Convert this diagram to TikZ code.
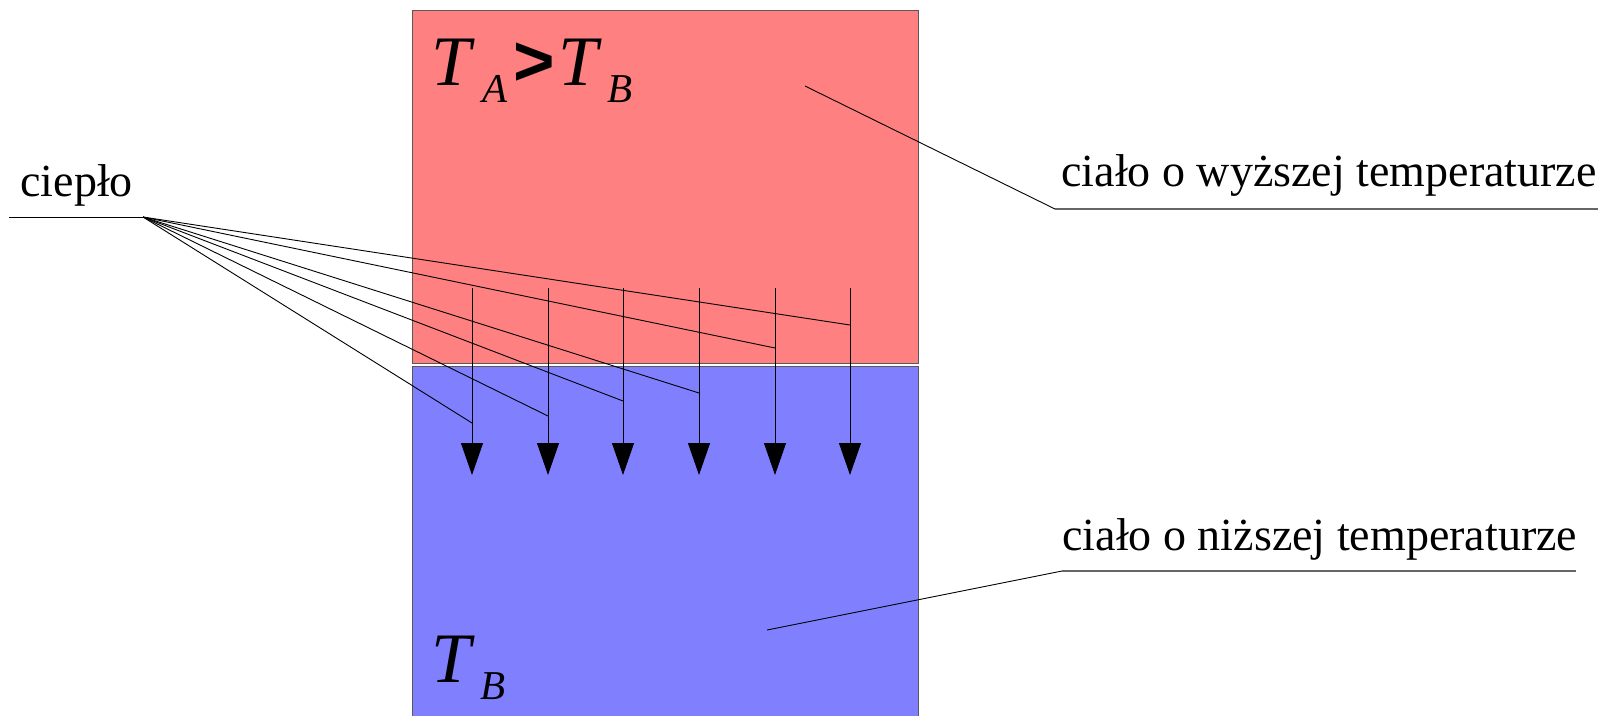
\documentclass[tikz,border=0pt]{standalone}
\usepackage{fontspec}
\setmainfont{Liberation Serif}
\newfontfamily\arialfont{Liberation Sans}
\usetikzlibrary{arrows.meta}
\definecolor{hot}{RGB}{255,128,128}
\definecolor{cold}{RGB}{128,128,255}
\begin{document}
\begin{tikzpicture}[x=1pt,y=-1pt,line width=1pt,
  body/.style={draw=black!65,line width=1pt,inner sep=0pt,outer sep=0pt,minimum width=506pt},
  lbl/.style={anchor=base west,inner sep=0pt,font=\fontsize{46}{55}\selectfont},
  big/.style={anchor=base west,inner sep=0pt,font=\fontsize{71}{80}\selectfont\itshape},
  sub/.style={anchor=base west,inner sep=0pt,font=\fontsize{41}{48}\selectfont\itshape},
  gt/.style={anchor=base west,inner sep=0pt,font=\fontsize{71}{80}\selectfont\arialfont\bfseries},
  flow/.style={-{Triangle[length=32pt,width=22pt]}},
  lead/.style={black,line width=0.9pt},
  uline/.style={black!60,line width=1.6pt}]
\useasboundingbox (0,0) rectangle (1606,715);
\clip (0,0) rectangle (1606,715);
\fill[white] (0,0) rectangle (1606,715);
% bodies
\node[body,fill=hot,minimum height=353pt] (hotbody) at (665,186.5) {};
\node[body,fill=cold,minimum height=352pt] (coldbody) at (665,542) {};
% temperatures
\node[big] (ta) at (431,85) {T};
\node[sub] (sa) at (482,102) {A};
\node[gt] (gtsign) at (513,85) {>};
\node[big] (tb) at (558,85) {T};
\node[sub] (sb) at (607,102) {B};
\node[big] (tb2) at (431,682) {T};
\node[sub] (sb2) at (480,699) {B};
% heat arrows
\foreach \x/\y [count=\i] in {472/423,548/416,623/401,699/393,775/348,850/325}{
  \coordinate (top\i) at (\x,288);
  \coordinate (tip\i) at (\x,475);
  \coordinate (hit\i) at (\x,\y);
  \draw[flow] (top\i) -- (tip\i);
}
% cieplo label
\node[lbl] (heat) at (20,196) {ciepło};
\coordinate (ulh) at (9,217);
\coordinate (fan) at (143,217);
\draw[lead] (ulh) -- (fan);
\foreach \i in {1,...,6}{\draw[lead] (fan) -- (hit\i);}
% hot label
\node[lbl] (hotlbl) at (1061,186) {ciało o wyższej temperaturze};
\coordinate (hotpt) at (805,86);
\coordinate (hotk) at (1055,209);
\coordinate (hotend) at (1598,209);
\draw[lead] (hotpt) -- (hotk);
\draw[uline] (hotk) -- (hotend);
% cold label
\node[lbl] (coldlbl) at (1062,550) {ciało o niższej temperaturze};
\coordinate (coldpt) at (767,630);
\coordinate (coldk) at (1062,571);
\coordinate (coldend) at (1576,571);
\draw[lead] (coldpt) -- (coldk);
\draw[uline] (coldk) -- (coldend);
\end{tikzpicture}
\end{document}
